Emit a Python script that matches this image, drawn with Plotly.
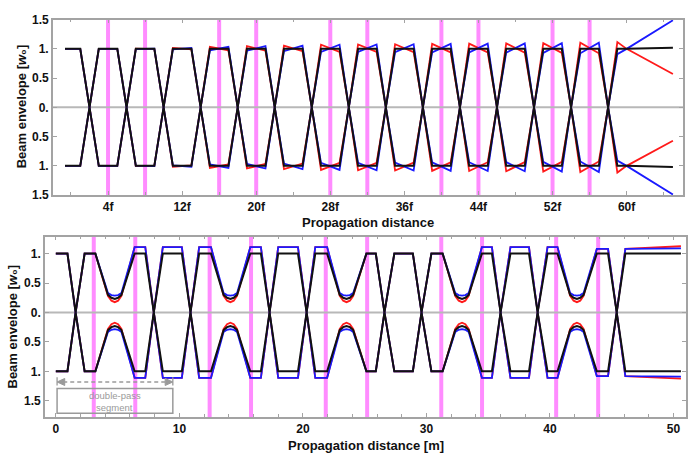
import plotly.graph_objects as go

# ---------------- top panel: 4f relay, distance in units of f ----------------
top_f = [-0.65, 1, 2,
         3, 5, 6, 7, 9, 10, 11, 13, 14, 15, 17, 18, 19, 21, 22,
         23, 25, 26, 27, 29, 30, 31, 33, 34, 35, 37, 38, 39, 41, 42,
         43, 45, 46, 47, 49, 50, 51, 53, 54, 55, 57, 58,
         59, 60, 65]

top_black = [1, 1, 0,
             1, 1, 0, 1, 1, 0, 1, 1, 0, 1, 1, 0, 1, 1, 0,
             1, 1, 0, 1, 1, 0, 1, 1, 0, 1, 1, 0, 1, 1, 0,
             1, 1, 0, 1, 1, 0, 1, 1, 0, 1, 1, 0,
             1, 1, 1.02]

top_red = [1, 1, 0,
           1.000, 1.000, 0, 1.005, 0.996, 0, 1.015, 0.990, 0, 1.035, 0.975, 0, 1.045, 0.968, 0,
           1.055, 0.960, 0, 1.070, 0.950, 0, 1.075, 0.947, 0, 1.080, 0.944, 0, 1.085, 0.940, 0,
           1.088, 0.938, 0, 1.092, 0.935, 0, 1.097, 0.932, 0, 1.107, 0.925, 0,
           1.115, 1.0, 0.57]

top_blue = [1, 1, 0,
            1.000, 1.000, 0, 0.996, 1.005, 0, 0.990, 1.015, 0, 0.975, 1.035, 0, 0.968, 1.045, 0,
            0.960, 1.055, 0, 0.950, 1.070, 0, 0.947, 1.075, 0, 0.944, 1.080, 0, 0.940, 1.085, 0,
            0.938, 1.088, 0, 0.935, 1.092, 0, 0.932, 1.097, 0, 0.925, 1.107, 0,
            0.91, 1.0, 1.49]

top_lenses = [4, 8, 16, 20, 28, 32, 40, 44, 52, 56]
top_tickvals = [4, 12, 20, 28, 36, 44, 52, 60]
top_ticktext = [f"{v}f" for v in top_tickvals]

# ---------------- bottom panel: distance in metres ----------------
bot_x = [0, 0.94, 1.6, 2.33,
         3.2, 4.22, 4.5, 4.77, 5.04, 5.31, 6.38,
         7.24, 7.93, 8.66, 10.2, 10.9, 11.6,
         12.56, 13.58, 13.86, 14.13, 14.40, 14.67, 15.74,
         16.6, 17.3, 18.0, 19.6, 20.3, 21.0,
         21.96, 22.98, 23.26, 23.53, 23.80, 24.07, 25.14,
         25.9, 26.6, 27.4, 28.9, 29.6, 30.4,
         31.31, 32.33, 32.61, 32.88, 33.15, 33.42, 34.49,
         35.3, 36.0, 36.8, 38.3, 39.0, 39.8,
         40.61, 41.63, 41.91, 42.18, 42.45, 42.72, 43.79,
         44.7, 45.4, 46.1, 50.6]

bot_black = [1, 1, 0, 1,
             1, 0.30, 0.25, 0.23, 0.25, 0.30, 1,
             1, 0, 1, 1, 0, 1,
             1, 0.30, 0.25, 0.23, 0.25, 0.30, 1,
             1, 0, 1, 1, 0, 1,
             1, 0.30, 0.25, 0.23, 0.25, 0.30, 1,
             1, 0, 1, 1, 0, 1,
             1, 0.30, 0.25, 0.23, 0.25, 0.30, 1,
             1, 0, 1, 1, 0, 1,
             1, 0.30, 0.25, 0.23, 0.25, 0.30, 1,
             1, 0, 1, 1.0]

bot_red = [1, 1, 0, 1,
           1, 0.28, 0.20, 0.175, 0.20, 0.28, 1.11,
           1.11, 0, 1.11, 1.11, 0, 1.11,
           1.11, 0.28, 0.20, 0.175, 0.20, 0.28, 1.11,
           1.11, 0, 1.11, 1.11, 0, 1.11,
           1.11, 0.28, 0.20, 0.175, 0.20, 0.28, 1.0,
           1, 0, 1, 1, 0, 1,
           1, 0.28, 0.20, 0.175, 0.20, 0.28, 1.11,
           1.11, 0, 1.11, 1.11, 0, 1.11,
           1.11, 0.28, 0.20, 0.175, 0.20, 0.28, 1.08,
           1.08, 0, 1.08, 1.125]

bot_blue = [1, 1, 0, 1,
            1, 0.33, 0.295, 0.285, 0.295, 0.33, 1.11,
            1.11, 0, 1.11, 1.11, 0, 1.11,
            1.11, 0.33, 0.295, 0.285, 0.295, 0.33, 1.11,
            1.11, 0, 1.11, 1.11, 0, 1.11,
            1.11, 0.33, 0.295, 0.285, 0.295, 0.33, 1.0,
            1, 0, 1, 1, 0, 1,
            1, 0.33, 0.295, 0.285, 0.295, 0.33, 1.11,
            1.11, 0, 1.11, 1.11, 0, 1.11,
            1.11, 0.33, 0.295, 0.285, 0.295, 0.33, 1.08,
            1.08, 0, 1.08, 1.09]

bot_lenses = [3.07, 6.43, 12.45, 15.8, 21.85, 25.2, 31.2, 34.5, 40.5, 43.9]
bot_tickvals = [0, 10, 20, 30, 40, 50]

env_ticks_top = [-1.5, -1, -0.5, 0, 0.5, 1, 1.5]
env_ticks_bot = [-1.5, -1, -0.5, 0, 0.5, 1]

def env_label(v):
    a = abs(v)
    return f"{a:g}." if a == int(a) else f"{a:g}"

# ---------------- styling ----------------
FONT = "Liberation Sans, Arial, sans-serif"
FRAME = "#a3a3a3"
RED = "#ff1a1a"
BLUE = "#1a1aff"
BLACK = "#111111"
LENS = "rgba(255,0,255,0.45)"
GREY = "#9a9a9a"

fig = go.Figure()

def add_pair(x, y, color, width, xa, ya):
    fig.add_trace(go.Scatter(x=x, y=y, mode="lines", xaxis=xa, yaxis=ya,
                             line=dict(color=color, width=width), hoverinfo="skip"))
    fig.add_trace(go.Scatter(x=x, y=[-v for v in y], mode="lines", xaxis=xa, yaxis=ya,
                             line=dict(color=color, width=width), hoverinfo="skip"))

for ys, col, w in [(top_red, RED, 1.8), (top_blue, BLUE, 1.8), (top_black, BLACK, 2)]:
    add_pair(top_f, ys, col, w, "x", "y")
for ys, col, w in [(bot_red, RED, 1.8), (bot_blue, BLUE, 1.8), (bot_black, BLACK, 2)]:
    add_pair(bot_x, ys, col, w, "x2", "y2")

shapes = []
for v in top_lenses:
    shapes.append(dict(type="line", xref="x", yref="y domain", x0=v, x1=v, y0=0, y1=1,
                       line=dict(color=LENS, width=4), layer="below"))
for v in bot_lenses:
    shapes.append(dict(type="line", xref="x2", yref="y2 domain", x0=v, x1=v, y0=0, y1=1,
                       line=dict(color=LENS, width=4), layer="below"))
for xr, yr in [("x domain", "y"), ("x2 domain", "y2")]:
    shapes.append(dict(type="line", xref=xr, yref=yr, x0=0, x1=1, y0=0, y1=0,
                       line=dict(color="#b8b8b8", width=2), layer="below"))

# double-pass segment marker
seg_l, seg_r = 0.1, 9.47
arr_y = -1.181
shapes += [
    dict(type="line", xref="x2", yref="y2", x0=seg_l + 0.5, x1=seg_r - 0.5, y0=arr_y, y1=arr_y,
         line=dict(color=GREY, width=1.5, dash="4px,3px")),
    dict(type="path", xref="x2", yref="y2",
         path=f"M {seg_l} {arr_y} L {seg_l + 0.62} {arr_y + 0.06} L {seg_l + 0.62} {arr_y - 0.06} Z",
         fillcolor=GREY, line=dict(color=GREY, width=1)),
    dict(type="path", xref="x2", yref="y2",
         path=f"M {seg_r} {arr_y} L {seg_r - 0.62} {arr_y + 0.06} L {seg_r - 0.62} {arr_y - 0.06} Z",
         fillcolor=GREY, line=dict(color=GREY, width=1)),
    dict(type="line", xref="x2", yref="y2", x0=seg_l, x1=seg_l, y0=-1.10, y1=-1.24,
         line=dict(color=GREY, width=1.3)),
    dict(type="line", xref="x2", yref="y2", x0=seg_r, x1=seg_r, y0=-1.10, y1=-1.24,
         line=dict(color=GREY, width=1.3)),
    dict(type="rect", xref="x2", yref="y2", x0=seg_l, x1=seg_r, y0=-1.29, y1=-1.713,
         line=dict(color=GREY, width=1.5), fillcolor="rgba(0,0,0,0)"),
]

W, H = 688, 462
def px(xp, yp):
    return xp / W, 1 - yp / H

ylabel = 'Beam envelope [<span style="font-style:italic;font-size:13px">w</span>₀]'
annotations = []
for (xp, yp), txt, ang in [((21, 102.5), ylabel, -90),
                           ((12.5, 329), ylabel, -90),
                           ((369, 222.5), "Propagation distance", 0),
                           ((367, 452.5), "Propagation distance [m]", 0)]:
    ax_, ay_ = px(xp, yp)
    annotations.append(dict(x=ax_, y=ay_, xref="paper", yref="paper", text=txt, textangle=ang,
                            showarrow=False, xanchor="center", yanchor="middle",
                            font=dict(family=FONT, size=13, color="#111", weight="bold")))
for txt, yv in [("double-pass", -1.412), ("segment", -1.61)]:
    annotations.append(dict(x=(seg_l + seg_r) / 2, y=yv, xref="x2", yref="y2",
                            text=txt, showarrow=False, yanchor="middle",
                            font=dict(family=FONT, size=9.5, color=GREY)))

axis_common = dict(showline=True, linecolor=FRAME, linewidth=1.5, mirror="ticks",
                   ticks="inside", ticklen=4, tickcolor=FRAME, tickwidth=1,
                   showgrid=False, zeroline=False,
                   tickfont=dict(family=FONT, size=12, color="#111", weight="bold"))

fig.update_layout(
    width=W, height=H, margin=dict(l=0, r=0, t=0, b=0),
    paper_bgcolor="white", plot_bgcolor="white", showlegend=False,
    shapes=shapes, annotations=annotations,
    xaxis=dict(domain=[53 / W, 685 / W], range=[-1.96, 66.09], anchor="y",
               tickvals=top_tickvals, ticktext=top_ticktext,
               minor=dict(ticks="inside", dtick=4, tick0=0, ticklen=3, tickcolor=FRAME),
               **axis_common),
    yaxis=dict(domain=[1 - 194 / H, 1 - 13 / H], range=[-1.5, 1.5], anchor="x",
               tickvals=env_ticks_top, ticktext=[env_label(v) for v in env_ticks_top],
               **axis_common),
    xaxis2=dict(domain=[45 / W, 1.0], range=[-0.888, 51.01], anchor="y2",
                tickvals=bot_tickvals, ticktext=[str(v) for v in bot_tickvals],
                minor=dict(ticks="inside", dtick=2, tick0=0, ticklen=3, tickcolor=FRAME),
                **axis_common),
    yaxis2=dict(domain=[1 - 423 / H, 1 - 236.7 / H], range=[-1.779, 1.29], anchor="x2",
                tickvals=env_ticks_bot, ticktext=[env_label(v) for v in env_ticks_bot],
                **axis_common),
)

fig.write_html("out.html")
